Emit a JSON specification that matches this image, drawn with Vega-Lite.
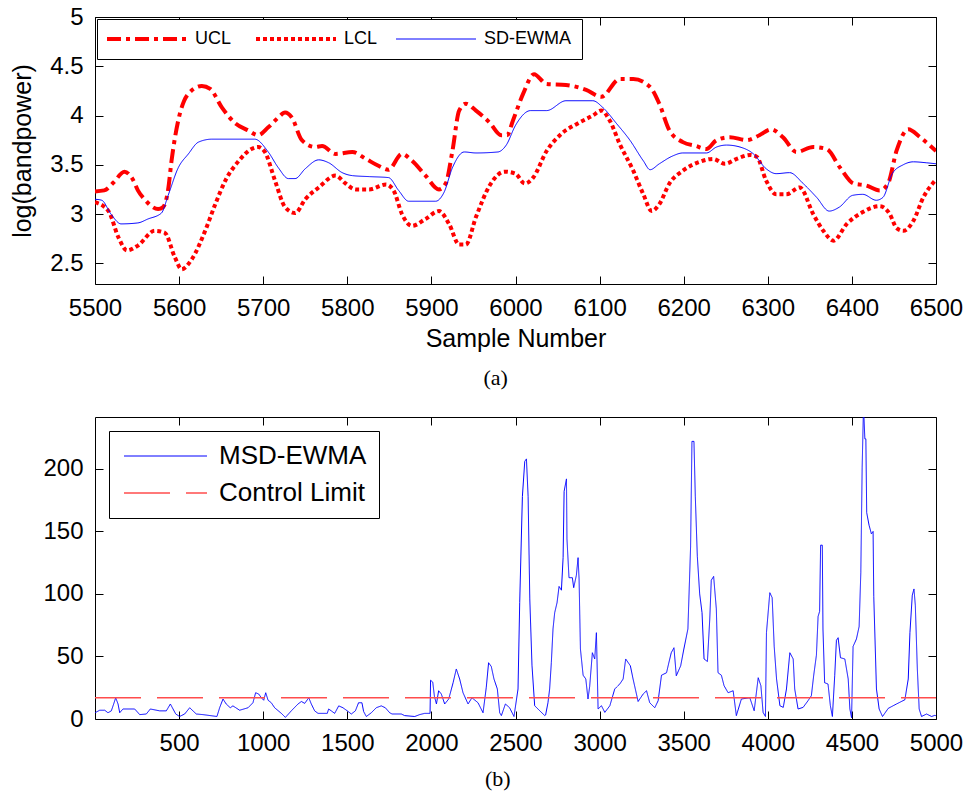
{
 "$schema": "https://vega.github.io/schema/vega-lite/v6.json",
 "padding": {"left": 10, "top": 4, "right": 0, "bottom": 0},
 "background": "white",
 "spacing": 13,
 "config": {
  "font": "Liberation Sans",
  "view": {"stroke": "black", "strokeWidth": 1},
  "axis": {"domain": false, "grid": false, "tickColor": "black", "tickSize": -8, "labelPadding": 20, "labelFontSize": 24, "labelColor": "black", "labelFlush": false, "titleFontSize": 25, "titleFontWeight": "normal", "titleColor": "black", "labelFont": "Liberation Sans", "titleFont": "Liberation Sans"},
  "legend": {"strokeColor": "black", "fillColor": "white", "labelColor": "black", "labelFont": "Liberation Sans", "cornerRadius": 0},
  "title": {"font": "Liberation Serif", "fontSize": 22, "fontWeight": "normal", "orient": "bottom", "color": "black", "frame": "bounds"}
 },
 "resolve": {"scale": {"color": "independent", "strokeDash": "independent"}, "legend": {"color": "independent", "strokeDash": "independent"}},
 "vconcat": [
  {
   "width": 841, "height": 267,
   "title": {"text": "(a)", "offset": 17, "dx": 9},
   "resolve": {"axis": {"x": "independent", "y": "independent"}},
   "data": {"values": [
    {"x":5500,"v":3.23,"s":"UCL"},{"x":5511,"v":3.24,"s":"UCL"},{"x":5522,"v":3.32,"s":"UCL"},{"x":5535,"v":3.43,"s":"UCL"},{"x":5545,"v":3.35,"s":"UCL"},{"x":5551,"v":3.24,"s":"UCL"},{"x":5560,"v":3.14,"s":"UCL"},{"x":5567,"v":3.08,"s":"UCL"},{"x":5575,"v":3.05,"s":"UCL"},{"x":5581,"v":3.07,"s":"UCL"},{"x":5587,"v":3.25,"s":"UCL"},{"x":5591,"v":3.54,"s":"UCL"},{"x":5599,"v":3.95,"s":"UCL"},{"x":5606,"v":4.15,"s":"UCL"},{"x":5611,"v":4.22,"s":"UCL"},{"x":5627,"v":4.30,"s":"UCL"},{"x":5637,"v":4.27,"s":"UCL"},{"x":5651,"v":4.08,"s":"UCL"},{"x":5667,"v":3.92,"s":"UCL"},{"x":5682,"v":3.85,"s":"UCL"},{"x":5694,"v":3.80,"s":"UCL"},{"x":5706,"v":3.88,"s":"UCL"},{"x":5718,"v":3.98,"s":"UCL"},{"x":5726,"v":4.03,"s":"UCL"},{"x":5734,"v":3.98,"s":"UCL"},{"x":5746,"v":3.75,"s":"UCL"},{"x":5762,"v":3.68,"s":"UCL"},{"x":5770,"v":3.69,"s":"UCL"},{"x":5786,"v":3.61,"s":"UCL"},{"x":5806,"v":3.63,"s":"UCL"},{"x":5822,"v":3.56,"s":"UCL"},{"x":5837,"v":3.49,"s":"UCL"},{"x":5849,"v":3.45,"s":"UCL"},{"x":5865,"v":3.61,"s":"UCL"},{"x":5877,"v":3.54,"s":"UCL"},{"x":5893,"v":3.39,"s":"UCL"},{"x":5909,"v":3.25,"s":"UCL"},{"x":5917,"v":3.31,"s":"UCL"},{"x":5925,"v":3.64,"s":"UCL"},{"x":5933,"v":4.05,"s":"UCL"},{"x":5941,"v":4.12,"s":"UCL"},{"x":5953,"v":4.05,"s":"UCL"},{"x":5969,"v":3.93,"s":"UCL"},{"x":5983,"v":3.80,"s":"UCL"},{"x":5990,"v":3.80,"s":"UCL"},{"x":5997,"v":3.95,"s":"UCL"},{"x":6009,"v":4.22,"s":"UCL"},{"x":6022,"v":4.42,"s":"UCL"},{"x":6037,"v":4.32,"s":"UCL"},{"x":6060,"v":4.31,"s":"UCL"},{"x":6084,"v":4.26,"s":"UCL"},{"x":6102,"v":4.19,"s":"UCL"},{"x":6124,"v":4.37,"s":"UCL"},{"x":6140,"v":4.37,"s":"UCL"},{"x":6160,"v":4.29,"s":"UCL"},{"x":6171,"v":4.12,"s":"UCL"},{"x":6183,"v":3.85,"s":"UCL"},{"x":6199,"v":3.73,"s":"UCL"},{"x":6215,"v":3.69,"s":"UCL"},{"x":6227,"v":3.66,"s":"UCL"},{"x":6239,"v":3.75,"s":"UCL"},{"x":6255,"v":3.78,"s":"UCL"},{"x":6275,"v":3.75,"s":"UCL"},{"x":6290,"v":3.80,"s":"UCL"},{"x":6304,"v":3.86,"s":"UCL"},{"x":6318,"v":3.78,"s":"UCL"},{"x":6334,"v":3.63,"s":"UCL"},{"x":6354,"v":3.68,"s":"UCL"},{"x":6370,"v":3.66,"s":"UCL"},{"x":6386,"v":3.47,"s":"UCL"},{"x":6402,"v":3.31,"s":"UCL"},{"x":6417,"v":3.29,"s":"UCL"},{"x":6433,"v":3.24,"s":"UCL"},{"x":6443,"v":3.31,"s":"UCL"},{"x":6453,"v":3.64,"s":"UCL"},{"x":6467,"v":3.86,"s":"UCL"},{"x":6481,"v":3.78,"s":"UCL"},{"x":6500,"v":3.64,"s":"UCL"},
    {"x":5500,"v":3.12,"s":"LCL"},{"x":5516,"v":3.03,"s":"LCL"},{"x":5528,"v":2.76,"s":"LCL"},{"x":5538,"v":2.63,"s":"LCL"},{"x":5551,"v":2.68,"s":"LCL"},{"x":5571,"v":2.83,"s":"LCL"},{"x":5583,"v":2.81,"s":"LCL"},{"x":5595,"v":2.56,"s":"LCL"},{"x":5603,"v":2.44,"s":"LCL"},{"x":5615,"v":2.54,"s":"LCL"},{"x":5631,"v":2.83,"s":"LCL"},{"x":5643,"v":3.10,"s":"LCL"},{"x":5655,"v":3.34,"s":"LCL"},{"x":5671,"v":3.54,"s":"LCL"},{"x":5686,"v":3.66,"s":"LCL"},{"x":5694,"v":3.68,"s":"LCL"},{"x":5702,"v":3.63,"s":"LCL"},{"x":5714,"v":3.34,"s":"LCL"},{"x":5726,"v":3.07,"s":"LCL"},{"x":5738,"v":3.01,"s":"LCL"},{"x":5750,"v":3.15,"s":"LCL"},{"x":5766,"v":3.27,"s":"LCL"},{"x":5786,"v":3.39,"s":"LCL"},{"x":5798,"v":3.31,"s":"LCL"},{"x":5810,"v":3.25,"s":"LCL"},{"x":5826,"v":3.25,"s":"LCL"},{"x":5846,"v":3.30,"s":"LCL"},{"x":5855,"v":3.24,"s":"LCL"},{"x":5865,"v":3.00,"s":"LCL"},{"x":5877,"v":2.88,"s":"LCL"},{"x":5893,"v":2.95,"s":"LCL"},{"x":5909,"v":3.03,"s":"LCL"},{"x":5921,"v":2.90,"s":"LCL"},{"x":5933,"v":2.69,"s":"LCL"},{"x":5941,"v":2.69,"s":"LCL"},{"x":5953,"v":2.97,"s":"LCL"},{"x":5970,"v":3.30,"s":"LCL"},{"x":5987,"v":3.43,"s":"LCL"},{"x":6000,"v":3.41,"s":"LCL"},{"x":6011,"v":3.31,"s":"LCL"},{"x":6021,"v":3.37,"s":"LCL"},{"x":6037,"v":3.64,"s":"LCL"},{"x":6054,"v":3.81,"s":"LCL"},{"x":6074,"v":3.92,"s":"LCL"},{"x":6092,"v":4.00,"s":"LCL"},{"x":6102,"v":4.05,"s":"LCL"},{"x":6112,"v":3.95,"s":"LCL"},{"x":6124,"v":3.71,"s":"LCL"},{"x":6140,"v":3.44,"s":"LCL"},{"x":6152,"v":3.20,"s":"LCL"},{"x":6162,"v":3.03,"s":"LCL"},{"x":6171,"v":3.10,"s":"LCL"},{"x":6183,"v":3.31,"s":"LCL"},{"x":6199,"v":3.44,"s":"LCL"},{"x":6219,"v":3.53,"s":"LCL"},{"x":6235,"v":3.56,"s":"LCL"},{"x":6249,"v":3.51,"s":"LCL"},{"x":6263,"v":3.56,"s":"LCL"},{"x":6279,"v":3.60,"s":"LCL"},{"x":6287,"v":3.58,"s":"LCL"},{"x":6298,"v":3.34,"s":"LCL"},{"x":6310,"v":3.20,"s":"LCL"},{"x":6322,"v":3.20,"s":"LCL"},{"x":6338,"v":3.27,"s":"LCL"},{"x":6354,"v":3.00,"s":"LCL"},{"x":6366,"v":2.83,"s":"LCL"},{"x":6378,"v":2.73,"s":"LCL"},{"x":6394,"v":2.90,"s":"LCL"},{"x":6413,"v":3.02,"s":"LCL"},{"x":6433,"v":3.08,"s":"LCL"},{"x":6445,"v":3.00,"s":"LCL"},{"x":6453,"v":2.86,"s":"LCL"},{"x":6461,"v":2.83,"s":"LCL"},{"x":6473,"v":2.93,"s":"LCL"},{"x":6485,"v":3.17,"s":"LCL"},{"x":6500,"v":3.35,"s":"LCL"},
    {"x":5500,"v":3.15,"s":"SD-EWMA"},{"x":5508,"v":3.14,"s":"SD-EWMA"},{"x":5519,"v":3.00,"s":"SD-EWMA"},{"x":5531,"v":2.90,"s":"SD-EWMA"},{"x":5551,"v":2.91,"s":"SD-EWMA"},{"x":5563,"v":2.95,"s":"SD-EWMA"},{"x":5579,"v":3.01,"s":"SD-EWMA"},{"x":5587,"v":3.19,"s":"SD-EWMA"},{"x":5599,"v":3.47,"s":"SD-EWMA"},{"x":5611,"v":3.61,"s":"SD-EWMA"},{"x":5623,"v":3.73,"s":"SD-EWMA"},{"x":5639,"v":3.76,"s":"SD-EWMA"},{"x":5690,"v":3.76,"s":"SD-EWMA"},{"x":5706,"v":3.63,"s":"SD-EWMA"},{"x":5718,"v":3.47,"s":"SD-EWMA"},{"x":5730,"v":3.36,"s":"SD-EWMA"},{"x":5738,"v":3.36,"s":"SD-EWMA"},{"x":5750,"v":3.46,"s":"SD-EWMA"},{"x":5766,"v":3.55,"s":"SD-EWMA"},{"x":5778,"v":3.52,"s":"SD-EWMA"},{"x":5794,"v":3.42,"s":"SD-EWMA"},{"x":5806,"v":3.39,"s":"SD-EWMA"},{"x":5826,"v":3.38,"s":"SD-EWMA"},{"x":5849,"v":3.37,"s":"SD-EWMA"},{"x":5861,"v":3.24,"s":"SD-EWMA"},{"x":5873,"v":3.13,"s":"SD-EWMA"},{"x":5905,"v":3.13,"s":"SD-EWMA"},{"x":5915,"v":3.22,"s":"SD-EWMA"},{"x":5925,"v":3.47,"s":"SD-EWMA"},{"x":5939,"v":3.63,"s":"SD-EWMA"},{"x":5953,"v":3.62,"s":"SD-EWMA"},{"x":5979,"v":3.63,"s":"SD-EWMA"},{"x":5989,"v":3.70,"s":"SD-EWMA"},{"x":6000,"v":3.90,"s":"SD-EWMA"},{"x":6018,"v":4.05,"s":"SD-EWMA"},{"x":6037,"v":4.05,"s":"SD-EWMA"},{"x":6060,"v":4.15,"s":"SD-EWMA"},{"x":6092,"v":4.15,"s":"SD-EWMA"},{"x":6104,"v":4.08,"s":"SD-EWMA"},{"x":6120,"v":3.92,"s":"SD-EWMA"},{"x":6136,"v":3.75,"s":"SD-EWMA"},{"x":6152,"v":3.54,"s":"SD-EWMA"},{"x":6160,"v":3.45,"s":"SD-EWMA"},{"x":6171,"v":3.51,"s":"SD-EWMA"},{"x":6187,"v":3.59,"s":"SD-EWMA"},{"x":6199,"v":3.62,"s":"SD-EWMA"},{"x":6227,"v":3.62,"s":"SD-EWMA"},{"x":6239,"v":3.68,"s":"SD-EWMA"},{"x":6251,"v":3.70,"s":"SD-EWMA"},{"x":6267,"v":3.68,"s":"SD-EWMA"},{"x":6283,"v":3.61,"s":"SD-EWMA"},{"x":6298,"v":3.46,"s":"SD-EWMA"},{"x":6310,"v":3.41,"s":"SD-EWMA"},{"x":6326,"v":3.42,"s":"SD-EWMA"},{"x":6342,"v":3.31,"s":"SD-EWMA"},{"x":6358,"v":3.17,"s":"SD-EWMA"},{"x":6373,"v":3.03,"s":"SD-EWMA"},{"x":6385,"v":3.07,"s":"SD-EWMA"},{"x":6401,"v":3.19,"s":"SD-EWMA"},{"x":6413,"v":3.20,"s":"SD-EWMA"},{"x":6429,"v":3.14,"s":"SD-EWMA"},{"x":6437,"v":3.17,"s":"SD-EWMA"},{"x":6448,"v":3.41,"s":"SD-EWMA"},{"x":6461,"v":3.50,"s":"SD-EWMA"},{"x":6473,"v":3.53,"s":"SD-EWMA"},{"x":6489,"v":3.52,"s":"SD-EWMA"},{"x":6500,"v":3.51,"s":"SD-EWMA"}
   ]},
   "layer": [
    {
     "mark": {"type": "line", "clip": true, "interpolate": "monotone"},
     "encoding": {
      "x": {"field": "x", "type": "quantitative", "scale": {"domain": [5500, 6500], "nice": false, "zero": false}, "axis": {"title": "Sample Number", "values": [5500,5600,5700,5800,5900,6000,6100,6200,6300,6400,6500], "format": "d", "titlePadding": 6}},
      "y": {"field": "v", "type": "quantitative", "scale": {"domain": [2.29, 5], "nice": false, "zero": false}, "axis": {"title": "log(bandpower)", "values": [2.5,3,3.5,4,4.5,5], "format": "~g", "titlePadding": 14}},
      "color": {"field": "s", "type": "nominal", "scale": {"domain": ["UCL","LCL","SD-EWMA"], "range": ["#ff0000","#ff0000","#0000ff"]}, "legend": {"title": null, "orient": "top-left", "direction": "horizontal", "offset": 2, "symbolType": "M-1,0H7", "symbolSize": 400, "labelFontSize": 18, "labelOffset": 69, "columnPadding": 16, "padding": 11, "encode": {"symbols": {"update": {"strokeWidth": {"signal": "datum.value === 'SD-EWMA' ? 1 : 4"}}}}}},
      "strokeDash": {"field": "s", "type": "nominal", "scale": {"domain": ["UCL","LCL","SD-EWMA"], "range": [[14,5,4,5],[4,3],[1,0]]}},
      "strokeWidth": {"condition": {"test": "datum.s === 'SD-EWMA'", "value": 1}, "value": 4}
     }
    },
    {
     "mark": {"type": "point", "opacity": 0},
     "encoding": {
      "x": {"field": "x", "type": "quantitative", "axis": {"orient": "top", "title": null, "labels": false, "values": [5500,5600,5700,5800,5900,6000,6100,6200,6300,6400,6500]}},
      "y": {"field": "v", "type": "quantitative", "axis": {"orient": "right", "title": null, "labels": false, "values": [2.5,3,3.5,4,4.5,5]}}
     }
    }
   ]
  },
  {
   "width": 841, "height": 302,
   "title": {"text": "(b)", "offset": 14, "dx": -5},
   "resolve": {"axis": {"x": "independent", "y": "independent"}},
   "data": {"values": [
    {"x":0,"v":5,"s":"MSD-EWMA"},{"x":28,"v":7,"s":"MSD-EWMA"},{"x":58,"v":7,"s":"MSD-EWMA"},{"x":77,"v":5,"s":"MSD-EWMA"},{"x":97,"v":6.5,"s":"MSD-EWMA"},{"x":111,"v":12,"s":"MSD-EWMA"},{"x":123,"v":17,"s":"MSD-EWMA"},{"x":137,"v":12,"s":"MSD-EWMA"},{"x":147,"v":5,"s":"MSD-EWMA"},{"x":166,"v":8,"s":"MSD-EWMA"},{"x":236,"v":8,"s":"MSD-EWMA"},{"x":266,"v":3.5,"s":"MSD-EWMA"},{"x":305,"v":4,"s":"MSD-EWMA"},{"x":329,"v":8,"s":"MSD-EWMA"},{"x":385,"v":6.5,"s":"MSD-EWMA"},{"x":424,"v":6.5,"s":"MSD-EWMA"},{"x":448,"v":12,"s":"MSD-EWMA"},{"x":464,"v":8,"s":"MSD-EWMA"},{"x":480,"v":4,"s":"MSD-EWMA"},{"x":503,"v":2,"s":"MSD-EWMA"},{"x":533,"v":4,"s":"MSD-EWMA"},{"x":563,"v":9,"s":"MSD-EWMA"},{"x":602,"v":4,"s":"MSD-EWMA"},{"x":642,"v":3.5,"s":"MSD-EWMA"},{"x":725,"v":2,"s":"MSD-EWMA"},{"x":741,"v":9,"s":"MSD-EWMA"},{"x":761,"v":16,"s":"MSD-EWMA"},{"x":780,"v":12,"s":"MSD-EWMA"},{"x":804,"v":9,"s":"MSD-EWMA"},{"x":820,"v":10.5,"s":"MSD-EWMA"},{"x":860,"v":7,"s":"MSD-EWMA"},{"x":910,"v":9,"s":"MSD-EWMA"},{"x":939,"v":13,"s":"MSD-EWMA"},{"x":955,"v":21,"s":"MSD-EWMA"},{"x":973,"v":20,"s":"MSD-EWMA"},{"x":989,"v":17,"s":"MSD-EWMA"},{"x":1003,"v":15,"s":"MSD-EWMA"},{"x":1015,"v":21,"s":"MSD-EWMA"},{"x":1029,"v":15,"s":"MSD-EWMA"},{"x":1048,"v":13,"s":"MSD-EWMA"},{"x":1068,"v":9,"s":"MSD-EWMA"},{"x":1108,"v":4.5,"s":"MSD-EWMA"},{"x":1132,"v":1.3,"s":"MSD-EWMA"},{"x":1167,"v":6.5,"s":"MSD-EWMA"},{"x":1207,"v":12,"s":"MSD-EWMA"},{"x":1227,"v":14,"s":"MSD-EWMA"},{"x":1247,"v":12.5,"s":"MSD-EWMA"},{"x":1271,"v":17,"s":"MSD-EWMA"},{"x":1286,"v":12,"s":"MSD-EWMA"},{"x":1306,"v":6.5,"s":"MSD-EWMA"},{"x":1326,"v":4.5,"s":"MSD-EWMA"},{"x":1381,"v":4.5,"s":"MSD-EWMA"},{"x":1389,"v":8,"s":"MSD-EWMA"},{"x":1405,"v":6.5,"s":"MSD-EWMA"},{"x":1425,"v":4.5,"s":"MSD-EWMA"},{"x":1449,"v":10.5,"s":"MSD-EWMA"},{"x":1474,"v":9,"s":"MSD-EWMA"},{"x":1500,"v":6.5,"s":"MSD-EWMA"},{"x":1524,"v":4,"s":"MSD-EWMA"},{"x":1548,"v":6.5,"s":"MSD-EWMA"},{"x":1567,"v":13,"s":"MSD-EWMA"},{"x":1587,"v":13,"s":"MSD-EWMA"},{"x":1597,"v":6,"s":"MSD-EWMA"},{"x":1613,"v":2,"s":"MSD-EWMA"},{"x":1643,"v":5,"s":"MSD-EWMA"},{"x":1672,"v":9,"s":"MSD-EWMA"},{"x":1702,"v":10.5,"s":"MSD-EWMA"},{"x":1726,"v":9,"s":"MSD-EWMA"},{"x":1752,"v":5,"s":"MSD-EWMA"},{"x":1766,"v":4,"s":"MSD-EWMA"},{"x":1821,"v":4,"s":"MSD-EWMA"},{"x":1841,"v":2.7,"s":"MSD-EWMA"},{"x":1901,"v":2,"s":"MSD-EWMA"},{"x":1930,"v":3.5,"s":"MSD-EWMA"},{"x":1960,"v":4.5,"s":"MSD-EWMA"},{"x":1992,"v":4.5,"s":"MSD-EWMA"},{"x":1995,"v":31,"s":"MSD-EWMA"},{"x":2008,"v":29.5,"s":"MSD-EWMA"},{"x":2018,"v":18,"s":"MSD-EWMA"},{"x":2030,"v":12,"s":"MSD-EWMA"},{"x":2043,"v":22.6,"s":"MSD-EWMA"},{"x":2059,"v":20,"s":"MSD-EWMA"},{"x":2079,"v":12,"s":"MSD-EWMA"},{"x":2103,"v":16,"s":"MSD-EWMA"},{"x":2129,"v":29,"s":"MSD-EWMA"},{"x":2148,"v":40,"s":"MSD-EWMA"},{"x":2168,"v":32,"s":"MSD-EWMA"},{"x":2188,"v":21,"s":"MSD-EWMA"},{"x":2218,"v":12,"s":"MSD-EWMA"},{"x":2241,"v":17,"s":"MSD-EWMA"},{"x":2277,"v":13,"s":"MSD-EWMA"},{"x":2307,"v":5,"s":"MSD-EWMA"},{"x":2326,"v":25,"s":"MSD-EWMA"},{"x":2340,"v":45,"s":"MSD-EWMA"},{"x":2356,"v":42,"s":"MSD-EWMA"},{"x":2372,"v":32,"s":"MSD-EWMA"},{"x":2392,"v":24,"s":"MSD-EWMA"},{"x":2406,"v":5,"s":"MSD-EWMA"},{"x":2416,"v":2.7,"s":"MSD-EWMA"},{"x":2440,"v":12,"s":"MSD-EWMA"},{"x":2465,"v":9,"s":"MSD-EWMA"},{"x":2491,"v":2,"s":"MSD-EWMA"},{"x":2515,"v":24,"s":"MSD-EWMA"},{"x":2525,"v":93,"s":"MSD-EWMA"},{"x":2541,"v":178,"s":"MSD-EWMA"},{"x":2555,"v":206,"s":"MSD-EWMA"},{"x":2565,"v":208,"s":"MSD-EWMA"},{"x":2575,"v":178,"s":"MSD-EWMA"},{"x":2585,"v":96,"s":"MSD-EWMA"},{"x":2598,"v":43,"s":"MSD-EWMA"},{"x":2614,"v":10.6,"s":"MSD-EWMA"},{"x":2644,"v":6.6,"s":"MSD-EWMA"},{"x":2674,"v":2.7,"s":"MSD-EWMA"},{"x":2679,"v":3.2,"s":"MSD-EWMA"},{"x":2693,"v":13,"s":"MSD-EWMA"},{"x":2703,"v":24,"s":"MSD-EWMA"},{"x":2713,"v":45,"s":"MSD-EWMA"},{"x":2723,"v":72,"s":"MSD-EWMA"},{"x":2733,"v":85,"s":"MSD-EWMA"},{"x":2747,"v":93,"s":"MSD-EWMA"},{"x":2759,"v":106,"s":"MSD-EWMA"},{"x":2773,"v":103,"s":"MSD-EWMA"},{"x":2783,"v":129,"s":"MSD-EWMA"},{"x":2789,"v":182,"s":"MSD-EWMA"},{"x":2803,"v":192,"s":"MSD-EWMA"},{"x":2806,"v":144,"s":"MSD-EWMA"},{"x":2818,"v":113,"s":"MSD-EWMA"},{"x":2838,"v":113,"s":"MSD-EWMA"},{"x":2846,"v":105,"s":"MSD-EWMA"},{"x":2862,"v":115,"s":"MSD-EWMA"},{"x":2872,"v":129,"s":"MSD-EWMA"},{"x":2878,"v":112,"s":"MSD-EWMA"},{"x":2886,"v":56,"s":"MSD-EWMA"},{"x":2902,"v":35,"s":"MSD-EWMA"},{"x":2918,"v":32,"s":"MSD-EWMA"},{"x":2931,"v":16,"s":"MSD-EWMA"},{"x":2941,"v":26,"s":"MSD-EWMA"},{"x":2957,"v":53,"s":"MSD-EWMA"},{"x":2971,"v":48,"s":"MSD-EWMA"},{"x":2981,"v":69,"s":"MSD-EWMA"},{"x":2991,"v":8,"s":"MSD-EWMA"},{"x":3011,"v":10.6,"s":"MSD-EWMA"},{"x":3031,"v":5.3,"s":"MSD-EWMA"},{"x":3061,"v":10.6,"s":"MSD-EWMA"},{"x":3090,"v":24,"s":"MSD-EWMA"},{"x":3120,"v":28,"s":"MSD-EWMA"},{"x":3140,"v":32,"s":"MSD-EWMA"},{"x":3155,"v":48,"s":"MSD-EWMA"},{"x":3183,"v":42.5,"s":"MSD-EWMA"},{"x":3199,"v":32,"s":"MSD-EWMA"},{"x":3229,"v":14,"s":"MSD-EWMA"},{"x":3259,"v":20,"s":"MSD-EWMA"},{"x":3279,"v":22.6,"s":"MSD-EWMA"},{"x":3298,"v":13,"s":"MSD-EWMA"},{"x":3328,"v":9,"s":"MSD-EWMA"},{"x":3348,"v":14.6,"s":"MSD-EWMA"},{"x":3368,"v":35,"s":"MSD-EWMA"},{"x":3398,"v":37,"s":"MSD-EWMA"},{"x":3410,"v":44,"s":"MSD-EWMA"},{"x":3426,"v":53,"s":"MSD-EWMA"},{"x":3442,"v":57,"s":"MSD-EWMA"},{"x":3456,"v":34.6,"s":"MSD-EWMA"},{"x":3482,"v":42.5,"s":"MSD-EWMA"},{"x":3501,"v":56,"s":"MSD-EWMA"},{"x":3525,"v":72,"s":"MSD-EWMA"},{"x":3541,"v":138,"s":"MSD-EWMA"},{"x":3549,"v":222,"s":"MSD-EWMA"},{"x":3561,"v":222,"s":"MSD-EWMA"},{"x":3569,"v":178,"s":"MSD-EWMA"},{"x":3581,"v":130,"s":"MSD-EWMA"},{"x":3595,"v":100,"s":"MSD-EWMA"},{"x":3609,"v":85,"s":"MSD-EWMA"},{"x":3621,"v":48,"s":"MSD-EWMA"},{"x":3641,"v":46,"s":"MSD-EWMA"},{"x":3655,"v":80,"s":"MSD-EWMA"},{"x":3664,"v":111,"s":"MSD-EWMA"},{"x":3678,"v":114,"s":"MSD-EWMA"},{"x":3694,"v":88,"s":"MSD-EWMA"},{"x":3704,"v":37,"s":"MSD-EWMA"},{"x":3724,"v":35,"s":"MSD-EWMA"},{"x":3740,"v":26.6,"s":"MSD-EWMA"},{"x":3764,"v":21,"s":"MSD-EWMA"},{"x":3794,"v":22.6,"s":"MSD-EWMA"},{"x":3813,"v":2.7,"s":"MSD-EWMA"},{"x":3843,"v":16,"s":"MSD-EWMA"},{"x":3893,"v":17,"s":"MSD-EWMA"},{"x":3919,"v":6.6,"s":"MSD-EWMA"},{"x":3943,"v":33,"s":"MSD-EWMA"},{"x":3959,"v":26.6,"s":"MSD-EWMA"},{"x":3972,"v":5.3,"s":"MSD-EWMA"},{"x":3986,"v":2,"s":"MSD-EWMA"},{"x":3992,"v":69,"s":"MSD-EWMA"},{"x":4012,"v":101,"s":"MSD-EWMA"},{"x":4026,"v":97,"s":"MSD-EWMA"},{"x":4038,"v":58,"s":"MSD-EWMA"},{"x":4052,"v":32,"s":"MSD-EWMA"},{"x":4072,"v":10.6,"s":"MSD-EWMA"},{"x":4092,"v":9.3,"s":"MSD-EWMA"},{"x":4111,"v":24,"s":"MSD-EWMA"},{"x":4131,"v":53,"s":"MSD-EWMA"},{"x":4151,"v":48,"s":"MSD-EWMA"},{"x":4160,"v":24,"s":"MSD-EWMA"},{"x":4180,"v":8,"s":"MSD-EWMA"},{"x":4210,"v":9.3,"s":"MSD-EWMA"},{"x":4239,"v":14.6,"s":"MSD-EWMA"},{"x":4259,"v":18.6,"s":"MSD-EWMA"},{"x":4273,"v":35,"s":"MSD-EWMA"},{"x":4289,"v":51,"s":"MSD-EWMA"},{"x":4299,"v":82,"s":"MSD-EWMA"},{"x":4308,"v":86,"s":"MSD-EWMA"},{"x":4314,"v":139,"s":"MSD-EWMA"},{"x":4324,"v":139,"s":"MSD-EWMA"},{"x":4328,"v":72,"s":"MSD-EWMA"},{"x":4338,"v":29,"s":"MSD-EWMA"},{"x":4358,"v":28,"s":"MSD-EWMA"},{"x":4372,"v":10.6,"s":"MSD-EWMA"},{"x":4384,"v":2,"s":"MSD-EWMA"},{"x":4398,"v":35,"s":"MSD-EWMA"},{"x":4408,"v":63,"s":"MSD-EWMA"},{"x":4418,"v":65,"s":"MSD-EWMA"},{"x":4432,"v":49,"s":"MSD-EWMA"},{"x":4458,"v":48,"s":"MSD-EWMA"},{"x":4478,"v":32,"s":"MSD-EWMA"},{"x":4488,"v":8,"s":"MSD-EWMA"},{"x":4498,"v":1,"s":"MSD-EWMA"},{"x":4507,"v":58,"s":"MSD-EWMA"},{"x":4527,"v":64,"s":"MSD-EWMA"},{"x":4543,"v":74,"s":"MSD-EWMA"},{"x":4553,"v":117,"s":"MSD-EWMA"},{"x":4561,"v":201,"s":"MSD-EWMA"},{"x":4569,"v":250,"s":"MSD-EWMA"},{"x":4577,"v":224,"s":"MSD-EWMA"},{"x":4583,"v":224,"s":"MSD-EWMA"},{"x":4588,"v":165,"s":"MSD-EWMA"},{"x":4602,"v":155,"s":"MSD-EWMA"},{"x":4616,"v":148,"s":"MSD-EWMA"},{"x":4626,"v":150,"s":"MSD-EWMA"},{"x":4630,"v":98,"s":"MSD-EWMA"},{"x":4646,"v":24,"s":"MSD-EWMA"},{"x":4662,"v":8,"s":"MSD-EWMA"},{"x":4682,"v":2,"s":"MSD-EWMA"},{"x":4716,"v":8.5,"s":"MSD-EWMA"},{"x":4765,"v":12,"s":"MSD-EWMA"},{"x":4815,"v":15.4,"s":"MSD-EWMA"},{"x":4835,"v":32,"s":"MSD-EWMA"},{"x":4845,"v":69,"s":"MSD-EWMA"},{"x":4859,"v":99,"s":"MSD-EWMA"},{"x":4869,"v":104,"s":"MSD-EWMA"},{"x":4877,"v":91,"s":"MSD-EWMA"},{"x":4889,"v":40,"s":"MSD-EWMA"},{"x":4900,"v":8,"s":"MSD-EWMA"},{"x":4914,"v":2,"s":"MSD-EWMA"},{"x":4944,"v":4,"s":"MSD-EWMA"},{"x":4974,"v":2,"s":"MSD-EWMA"},{"x":4994,"v":3,"s":"MSD-EWMA"},{"x":5000,"v":2.5,"s":"MSD-EWMA"},
    {"x":0,"v":17,"s":"Control Limit"},{"x":5000,"v":17,"s":"Control Limit"}
   ]},
   "layer": [
    {
     "mark": {"type": "line", "clip": true},
     "encoding": {
      "x": {"field": "x", "type": "quantitative", "scale": {"domain": [0, 5000], "nice": false, "zero": false}, "axis": {"title": null, "values": [500,1000,1500,2000,2500,3000,3500,4000,4500,5000], "format": "d"}},
      "y": {"field": "v", "type": "quantitative", "scale": {"domain": [0, 241.5], "nice": false}, "axis": {"title": null, "values": [0,50,100,150,200], "format": "d"}},
      "color": {"field": "s", "type": "nominal", "scale": {"domain": ["MSD-EWMA","Control Limit"], "range": ["#0000ff","#ff4d4d"]}, "legend": {"title": null, "orient": "top-left", "direction": "vertical", "offset": 14, "symbolType": "M-1,0H7.3", "symbolSize": 400, "labelFontSize": 26, "labelOffset": 72, "rowPadding": 11, "padding": 12, "encode": {"symbols": {"update": {"strokeWidth": {"signal": "datum.value === 'MSD-EWMA' ? 1 : 1.5"}}}}}},
      "strokeDash": {"field": "s", "type": "nominal", "scale": {"domain": ["MSD-EWMA","Control Limit"], "range": [[1,0],[46,16]]}},
      "strokeWidth": {"condition": {"test": "datum.s === 'MSD-EWMA'", "value": 1}, "value": 1.5}
     }
    },
    {
     "mark": {"type": "point", "opacity": 0},
     "encoding": {
      "x": {"field": "x", "type": "quantitative", "axis": {"orient": "top", "title": null, "labels": false, "values": [500,1000,1500,2000,2500,3000,3500,4000,4500,5000]}},
      "y": {"field": "v", "type": "quantitative", "axis": {"orient": "right", "title": null, "labels": false, "values": [0,50,100,150,200]}}
     }
    }
   ]
  }
 ]
}
